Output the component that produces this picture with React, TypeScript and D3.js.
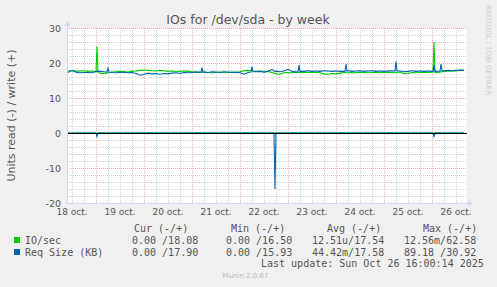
import React from 'react';
import * as d3 from 'd3';

// ---- data: sample times in hours after Oct 18 10:00 UTC ----
const startTime = Date.UTC(2025, 9, 18, 10, 0);

const hours = [
  0, 2, 4, 6, 8, 10, 12, 14, 14.5, 15,
  16, 18, 19.5, 20, 20.5, 22, 24, 26, 28, 30,
  32, 34, 36, 38, 40, 42, 44, 46, 48, 50,
  52, 54, 56, 58, 60, 62, 64, 66, 66.5, 67,
  67.5, 68, 70, 72, 74, 76, 78, 80, 82, 84,
  86, 88, 90, 91.5, 92, 92.5, 94, 96, 98, 100,
  102, 103, 103.5, 104, 106, 108, 110, 112, 114, 115,
  115.5, 116, 118, 120, 122, 124, 126, 128, 130, 132,
  134, 136, 138, 138.5, 139, 139.5, 140, 142, 144, 146,
  148, 150, 152, 154, 156, 158, 160, 162, 163.5, 164,
  164.5, 166, 168, 170, 172, 174, 176, 178, 180, 182,
  182.5, 183, 183.5, 184, 186, 186.5, 187, 188, 190, 192,
  194, 196, 198,
];

const ioWrite = [
  17.7, 17.8, 17.6, 17.7, 17.8, 17.6, 17.7, 17.5, 24.7, 17.3,
  17.1, 17.0, 17.1, 17.2, 17.2, 17.4, 17.5, 17.6, 17.5, 17.4,
  17.6, 17.7, 17.9, 18.0, 17.9, 17.8, 17.7, 17.9, 17.8, 17.6,
  17.7, 17.5, 17.6, 17.7, 17.6, 17.5, 17.4, 17.3, 17.3, 17.4,
  17.4, 17.4, 17.3, 17.2, 17.3, 17.4, 17.2, 17.3, 17.4, 17.3,
  17.5, 17.8, 17.9, 17.8, 17.8, 17.7, 17.6, 17.7, 17.5, 17.6,
  17.3, 17.1, 17.0, 16.9, 16.8, 17.2, 17.3, 17.2, 17.4, 17.3,
  17.3, 17.3, 17.4, 17.3, 17.4, 17.3, 17.2, 16.9, 16.8, 17.0,
  16.9, 17.1, 17.3, 17.3, 17.2, 17.2, 17.2, 17.3, 17.2, 17.4,
  17.3, 17.2, 17.3, 17.4, 17.2, 17.3, 17.4, 17.3, 17.2, 17.2,
  17.3, 17.4, 16.9, 17.0, 17.3, 17.2, 17.3, 17.4, 17.3, 17.4,
  17.4, 26.0, 17.3, 17.3, 17.4, 17.5, 17.5, 17.6, 17.7, 17.8,
  17.7, 17.9, 18.0,
];

const reqWrite = [
  17.3, 17.9, 17.4, 17.2, 17.3, 17.3, 17.2, 17.6, 17.6, 17.6,
  17.6, 17.5, 17.4, 18.5, 17.4, 17.3, 17.2, 17.3, 17.4, 17.2,
  17.3, 17.0, 16.5, 16.8, 17.1, 16.9, 17.0, 16.8, 17.0, 16.9,
  17.1, 17.2, 17.0, 17.3, 17.2, 17.3, 17.4, 17.4, 17.4, 18.7,
  17.4, 17.4, 17.3, 17.5, 17.4, 17.3, 17.5, 17.4, 17.3, 17.4,
  17.2, 16.8, 17.3, 17.4, 19.0, 17.5, 17.5, 17.6, 17.4, 17.6,
  18.2, 17.7, 17.6, 17.6, 17.5, 17.7, 18.2, 17.6, 17.4, 17.5,
  19.4, 17.6, 17.6, 17.8, 17.6, 17.7, 17.6, 17.8, 17.7, 17.6,
  17.7, 17.6, 17.6, 17.6, 19.7, 17.7, 17.8, 17.6, 17.7, 17.8,
  17.6, 17.7, 17.8, 17.6, 17.7, 17.6, 17.7, 17.8, 17.7, 20.4,
  17.7, 17.7, 17.5, 17.6, 17.8, 17.6, 17.7, 17.6, 17.7, 17.6,
  17.6, 19.4, 17.6, 17.6, 17.7, 19.7, 17.8, 17.8, 17.9, 17.8,
  17.9, 18.0, 17.9,
];

const ioRead = [
  0, 0, 0, 0, 0, 0, 0, 0, 0, 0,
  0, 0, 0, 0, 0, 0, 0, 0, 0, 0,
  0, 0, 0, 0, 0, 0, 0, 0, 0, 0,
  0, 0, 0, 0, 0, 0, 0, 0, 0, 0,
  0, 0, 0, 0, 0, 0, 0, 0, 0, 0,
  0, 0, 0, 0, 0, 0, 0, 0, 0, 0,
  0, 0, 0, 0, 0, 0, 0, 0, 0, 0,
  0, 0, 0, 0, 0, 0, 0, 0, 0, 0,
  0, 0, 0, 0, 0, 0, 0, 0, 0, 0,
  0, 0, 0, 0, 0, 0, 0, 0, 0, 0,
  0, 0, 0, 0, 0, 0, 0, 0, 0, 0,
  0, 0, 0, 0, 0, 0, 0, 0, 0, 0,
  0, 0, 0,
];

const reqRead = [
  0, 0, 0, 0, 0, 0, 0, 0, 1.0, 0,
  0, 0, 0, 0, 0, 0, 0, 0, 0, 0,
  0, 0, 0, 0, 0, 0, 0, 0, 0, 0,
  0, 0, 0, 0, 0, 0, 0, 0, 0, 0,
  0, 0, 0, 0, 0, 0, 0, 0, 0, 0,
  0, 0, 0, 0, 0, 0, 0, 0, 0, 0,
  0, 0, 16.0, 0, 0, 0, 0, 0, 0, 0,
  0, 0, 0, 0, 0, 0, 0, 0, 0, 0,
  0, 0, 0, 0, 0, 0, 0, 0, 0, 0,
  0, 0, 0, 0, 0, 0, 0, 0, 0, 0,
  0, 0, 0, 0, 0, 0, 0, 0, 0, 0,
  0, 1.0, 0, 0, 0, 0, 0, 0, 0, 0,
  0, 0, 0,
];

const yTicks = [30, 20, 10, 0, -10, -20];
const dayLabels = ['18 oct.', '19 oct.', '20 oct.', '21 oct.', '22 oct.', '23 oct.', '24 oct.', '25 oct.', '26 oct.'];
const seriesNames = ['IO/sec', 'Req Size (KB)'];
const seriesColors = ['#00CC00', '#0066B3'];
const legendHeaders = ['Cur (-/+)', 'Min (-/+)', 'Avg (-/+)', 'Max (-/+)'];
const ioStats = ['0.00 /18.08', '0.00 /16.50', '12.51u/17.54', '12.56m/62.58'];
const reqStats = ['0.00 /17.90', '0.00 /15.93', '44.42m/17.58', '89.18 /30.92'];
const lastUpdate = 'Last update: Sun Oct 26 16:00:14 2025';

const W = 497;
const H = 287;
const PL = 67, PR = 467, PT = 28, PB = 203;

export default function App() {
  const x = d3.scaleUtc()
    .domain([new Date(Date.UTC(2025, 9, 18, 9, 30)), new Date(Date.UTC(2025, 9, 26, 17, 30))])
    .range([PL, PR]);
  const y = d3.scaleLinear().domain([-20, 30]).range([PB, PT]);

  const tAt = (i: number) => new Date(startTime + hours[i] * 3600e3);
  const line = d3.line<number>().x((_, i) => x(tAt(i))).y((d) => y(d));
  const lineNeg = d3.line<number>().x((_, i) => x(tAt(i))).y((d) => y(-d));

  const [d0, d1] = x.domain();
  const minorV = d3.utcHour.every(6)!.range(d0, d1).filter((d) => d.getUTCHours() !== 0);
  const majorV = d3.utcDay.range(d0, d1);
  const labelDays = d3.utcDay.range(d3.utcDay.floor(d0), d1).map((d) => new Date(+d + 12 * 3600e3));

  const minorH: number[] = [];
  for (let v = -18; v <= 30; v += 2) if (v % 10 !== 0) minorH.push(v);
  const majorH = yTicks.filter((v) => v !== 0 && v !== -20);

  const crisp = (v: number) => Math.round(v) + 0.5;
  const font = 'DejaVu Sans, sans-serif';
  const mono = 'DejaVu Sans Mono, monospace';
  const fc = '#555';

  const statCols = [132, 226, 312, 404];
  const headerCols = [134, 231, 327, 423];

  return (
    <svg width={W} height={H} style={{ position: 'absolute', left: 0, top: 0 }} xmlns="http://www.w3.org/2000/svg">
      <rect x={0} y={0} width={W} height={H} fill="#F0F0F0" />
      <rect x={PL} y={PT} width={PR - PL} height={PB - PT} fill="#FFFFFF" />

      {/* minor grid */}
      {minorV.map((d, i) => (
        <line key={'mv' + i} x1={crisp(x(d))} x2={crisp(x(d))} y1={PT} y2={PB} stroke="#D4D4D4" strokeDasharray="1,1" strokeWidth={1} />
      ))}
      {minorH.map((v, i) => (
        <line key={'mh' + i} x1={PL} x2={PR} y1={crisp(y(v))} y2={crisp(y(v))} stroke="#D4D4D4" strokeDasharray="1,1" strokeWidth={1} />
      ))}
      {/* major grid */}
      {majorV.map((d, i) => (
        <line key={'Mv' + i} x1={crisp(x(d))} x2={crisp(x(d))} y1={PT} y2={PB} stroke="#EFB0B0" strokeDasharray="1,1" strokeWidth={1} />
      ))}
      {majorH.map((v, i) => (
        <line key={'Mh' + i} x1={PL} x2={PR} y1={crisp(y(v))} y2={crisp(y(v))} stroke="#EFB0B0" strokeDasharray="1,1" strokeWidth={1} />
      ))}

      {/* series */}
      <path d={lineNeg(ioRead) || ''} fill="none" stroke={seriesColors[0]} strokeWidth={1} />
      <path d={line(ioWrite) || ''} fill="none" stroke={seriesColors[0]} strokeWidth={1.1} />
      <path d={lineNeg(reqRead) || ''} fill="none" stroke={seriesColors[1]} strokeWidth={1.1} />
      <path d={line(reqWrite) || ''} fill="none" stroke={seriesColors[1]} strokeWidth={1.1} />

      {/* zero line */}
      <line x1={PL} x2={PR} y1={crisp(y(0))} y2={crisp(y(0))} stroke="#000" strokeWidth={1} />

      {/* axes */}
      <line x1={PL + 0.5} x2={PL + 0.5} y1={PB} y2={PT - 3} stroke="#CFD6F8" strokeWidth={1} />
      <path d={`M${PL - 2.5},${PT - 2} L${PL + 3.5},${PT - 2} L${PL + 0.5},${PT - 7} Z`} fill="#CFD6F8" />
      <line x1={PL} x2={PR + 2} y1={PB + 0.5} y2={PB + 0.5} stroke="#CFD6F8" strokeWidth={1} />
      <path d={`M${PR + 1},${PB - 2.5} L${PR + 1},${PB + 3.5} L${PR + 6},${PB + 0.5} Z`} fill="#CFD6F8" />

      {/* y ticks */}
      {yTicks.map((v) => (
        <text key={'yt' + v} x={61} y={y(v)} textAnchor="end" dominantBaseline="central" fontFamily={font} fontSize={9.5} fill={fc}>
          {v}
        </text>
      ))}
      {/* x labels */}
      {labelDays.map((d, i) => (
        <text key={'xl' + i} x={x(d)} y={212} textAnchor="middle" dominantBaseline="central" fontFamily={font} fontSize={9} fill={fc}>
          {dayLabels[i]}
        </text>
      ))}

      {/* title */}
      <text x={248} y={19} textAnchor="middle" dominantBaseline="central" fontFamily={font} fontSize={12.5} fill={fc}>
        IOs for /dev/sda - by week
      </text>
      {/* y-axis title */}
      <text transform={`translate(11,${(PT + PB) / 2}) rotate(-90)`} textAnchor="middle" dominantBaseline="central" fontFamily={font} fontSize={11} fill={fc}>
        Units read (-) / write (+)
      </text>
      {/* watermark */}
      <text transform={`translate(488,5) rotate(90)`} textAnchor="start" dominantBaseline="central" fontFamily={font} fontSize={7} fill="#CCCCCC">
        RRDTOOL / TOBI OETIKER
      </text>

      {/* legend */}
      {legendHeaders.map((h, i) => (
        <text key={'lh' + i} x={headerCols[i]} y={228} dominantBaseline="central" fontFamily={mono} fontSize={10} fill={fc} xmlSpace="preserve">
          {h}
        </text>
      ))}
      {[ioStats, reqStats].map((row, r) => (
        <g key={'lr' + r}>
          <rect x={14} y={237 + r * 12} width={6} height={6} fill={seriesColors[r]} />
          <text x={25} y={240 + r * 12} dominantBaseline="central" fontFamily={mono} fontSize={10} fill={fc}>
            {seriesNames[r]}
          </text>
          {row.map((s, c) => (
            <text key={'ls' + c} x={statCols[c]} y={240 + r * 12} dominantBaseline="central" fontFamily={mono} fontSize={10} fill={fc} xmlSpace="preserve">
              {s}
            </text>
          ))}
        </g>
      ))}
      <text x={261} y={263.5} dominantBaseline="central" fontFamily={mono} fontSize={10} fill={fc}>
        {lastUpdate}
      </text>
      <text x={245.5} y={276} textAnchor="middle" dominantBaseline="central" fontFamily={font} fontSize={7} fill="#BBBBBB">
        Munin 2.0.67
      </text>
    </svg>
  );
}
